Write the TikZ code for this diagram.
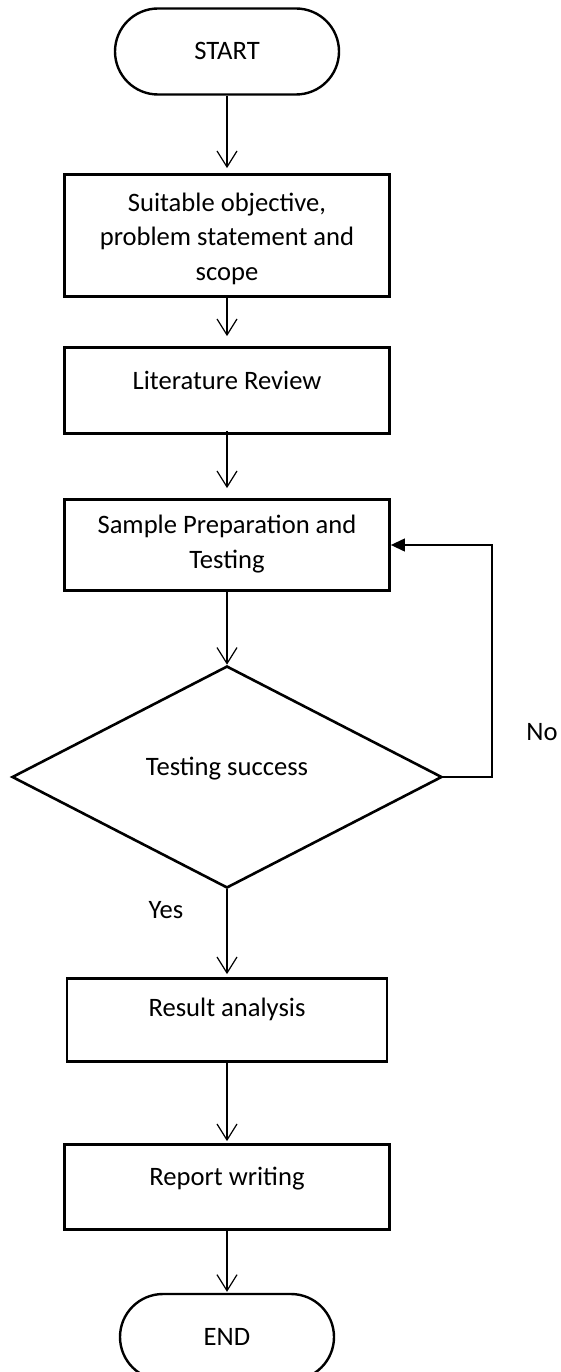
\documentclass[tikz,border=0pt]{standalone}
\usepackage{fontspec}
\setmainfont{Carlito}
\usetikzlibrary{arrows.meta,shapes.geometric}
\begin{document}
\begin{tikzpicture}[x=1pt,y=-1pt,
  every node/.style={font=\fontsize{26.6}{34.5}\selectfont},
  box/.style={draw, line width=2.8pt, inner sep=0pt, minimum width=325pt, text height=17pt, align=center},
  term/.style={draw, line width=2.4pt, rounded corners=43pt, inner sep=0pt, text height=17pt, text depth=0pt},
  decision/.style={draw, diamond, line width=2.6pt, inner sep=0pt, minimum width=430pt, minimum height=222pt, text height=17pt, text depth=21pt},
  flow/.style={line width=1.2pt, -{Straight Barb[length=16pt,width=20pt,line width=1.2pt]}},
  back/.style={line width=1.2pt, -{Triangle[length=14pt,width=13pt]}},
  plain/.style={inner sep=0pt, anchor=base}
]
\useasboundingbox (0,0) rectangle (560,1372);
\node[term, minimum width=224pt, minimum height=86pt] (start) at (227,51.5) {START};
\node[box, minimum height=122pt, text height=89pt, text depth=0pt] (obj) at (227,235.5) {Suitable objective,\\problem statement and\\scope};
\node[box, minimum height=86pt, text depth=20pt] (lit) at (227,390.5) {Literature Review};
\node[box, minimum height=91pt, text height=51.5pt, text depth=5.5pt] (sample) at (227,545) {Sample Preparation and\\Testing};
\node[decision] (test) at (227,777) {Testing success};
\node[box, minimum width=320pt, minimum height=83pt, text depth=24pt] (result) at (227,1020) {Result analysis};
\node[box, minimum height=85pt, text depth=21pt] (report) at (227,1187) {Report writing};
\node[term, minimum width=214pt, minimum height=86pt] (end) at (227,1337) {END};
\node[plain] (no) at (542,740) {No};
\node[plain] (yes) at (166,918) {Yes};
\coordinate (turn) at (492,777);

\draw[flow, shorten >=5pt] (start) -- (obj);
\draw[flow, shorten >=10pt] (obj) -- (lit);
\draw[flow, shorten <=-4pt, shorten >=10pt] (lit) -- (sample);
\draw[flow] (sample) -- (test);
\draw[flow, shorten >=3pt] (test) -- (result);
\draw[flow, shorten >=2pt] (result) -- (report);
\draw[flow, shorten >=1pt] (report) -- (end);
\draw[back] (test.east) -- (turn) |- (sample.east);
\end{tikzpicture}
\end{document}
